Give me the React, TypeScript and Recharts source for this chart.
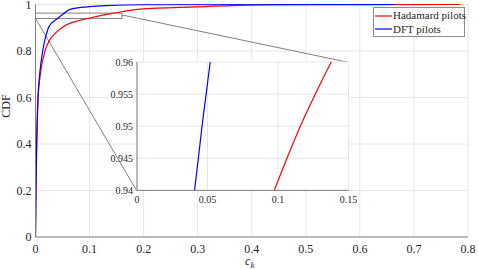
import { CartesianGrid, Line, LineChart, ReferenceArea, ReferenceLine, XAxis, YAxis } from 'recharts';

// CDF levels shared by both curves, and the c_k value where each curve reaches them
const cdfLevels = [0, 0.1, 0.2, 0.3, 0.4, 0.5, 0.6, 0.7, 0.8, 0.85, 0.875, 0.9, 0.92, 0.93, 0.94, 0.945, 0.95, 0.955, 0.96, 0.97, 0.98, 0.99, 0.995, 0.999, 1];
const hadamardX = [0, 0.0005, 0.001, 0.0017, 0.0025, 0.0035, 0.005, 0.009, 0.0176, 0.027, 0.036, 0.0485, 0.064, 0.079, 0.0973, 0.1063, 0.1158, 0.1264, 0.1377, 0.162, 0.194, 0.298, 0.36, 0.5, 0.786];
const dftX = [0, 0.0004, 0.0008, 0.0013, 0.002, 0.003, 0.0045, 0.0077, 0.0133, 0.0175, 0.0205, 0.0238, 0.03, 0.035, 0.0408, 0.0435, 0.0461, 0.049, 0.0519, 0.057, 0.065, 0.095, 0.13, 0.2, 0.665];

const mainXTicks = [0, 0.1, 0.2, 0.3, 0.4, 0.5, 0.6, 0.7, 0.8];
const mainYTicks = [0, 0.2, 0.4, 0.6, 0.8, 1];
const insetXTicks = [0, 0.05, 0.1, 0.15];
const insetYTicks = [0.94, 0.945, 0.95, 0.955, 0.96];

const zoomBox = { x1: 0, x2: 0.16, y1: 0.94, y2: 0.963 };

const hadamardData = cdfLevels.map((p, i) => ({ x: hadamardX[i], cdf: p }));
const dftData = cdfLevels.map((p, i) => ({ x: dftX[i], cdf: p }));

const FONT = '"Liberation Serif", "Times New Roman", serif';
const TEXT = '#262626';
const AXIS = '#808080';
const GRID = '#e6e6e6';

// main plot box in pixels
const W = 478;
const H = 269;
const plot = { left: 35.5, top: 4.5, right: 468, bottom: 237 };
// inset plot box in pixels
const inset = { left: 136.7, top: 62.3, right: 348.3, bottom: 190.7 };

const toMain = (px: number, py: number) => ({
  x: ((px - plot.left) / (plot.right - plot.left)) * 0.8,
  y: (plot.bottom - py) / (plot.bottom - plot.top),
});

const fmt = (v: number) => String(v);

function XLabel({ viewBox }: any) {
  const cx = viewBox.x + viewBox.width / 2 - 2;
  const y = viewBox.y + 28;
  return (
    <text x={cx} y={y} textAnchor="middle" fontSize={12} fill={TEXT}>
      <tspan fontStyle="italic">c</tspan>
      <tspan fontStyle="italic" fontSize={9} dy={3}>k</tspan>
    </text>
  );
}

function Legend() {
  const rows = [
    { name: 'Hadamard pilots', color: '#ff0000' },
    { name: 'DFT pilots', color: '#0000ff' },
  ];
  return (
    <div
      style={{
        position: 'absolute',
        left: 373,
        top: 7,
        width: 90,
        height: 27,
        border: '1px solid #8c8c8c',
        background: '#fff',
        fontFamily: FONT,
        fontSize: 11,
        color: TEXT,
        paddingTop: 1,
        whiteSpace: 'nowrap',
      }}
    >
      {rows.map((r) => (
        <div key={r.name} style={{ display: 'flex', alignItems: 'center', height: 13.5, lineHeight: '13.5px' }}>
          <svg width={19} height={4} style={{ flexShrink: 0 }}>
            <line x1={1} x2={18} y1={2} y2={2} stroke={r.color} strokeWidth={1.2} />
          </svg>
          <span>{r.name}</span>
        </div>
      ))}
    </div>
  );
}

export default function App() {
  const cornerTR = toMain(inset.right, inset.top);
  const cornerBL = toMain(inset.left, inset.bottom);
  const insetW = inset.right - inset.left + 40 + 10;
  const insetH = inset.bottom - inset.top + 5 + 20;

  return (
    <div style={{ position: 'absolute', left: 0, top: 0, width: W, height: H, background: '#fff', fontFamily: FONT }}>
      <style>{`.recharts-wrapper text, .recharts-wrapper tspan { font-family: "Liberation Serif", "Times New Roman", serif !important; }`}</style>
      <LineChart width={W} height={H} margin={{ top: plot.top, right: W - plot.right, left: 0, bottom: 2 }}>
        <CartesianGrid stroke={GRID} strokeWidth={1} />
        <XAxis
          type="number"
          dataKey="x"
          domain={[0, 0.8]}
          ticks={mainXTicks}
          tickFormatter={fmt}
          allowDataOverflow
          height={H - plot.bottom - 2}
          stroke={AXIS}
          tickLine={false}
          tickSize={5}
          tickMargin={2}
          tick={{ fill: TEXT, fontSize: 12, fontFamily: 'Liberation Serif' }}
          interval={0}
          label={<XLabel />}
        />
        <YAxis
          type="number"
          dataKey="cdf"
          domain={[0, 1]}
          ticks={mainYTicks}
          tickFormatter={fmt}
          width={plot.left}
          stroke={AXIS}
          tickLine={false}
          tickSize={2}
          tickMargin={2}
          tick={{ fill: TEXT, fontSize: 12, fontFamily: 'Liberation Serif' }}
          interval={0}
          label={{ value: 'CDF', angle: -90, position: 'insideLeft', offset: 6, fill: TEXT, fontSize: 12, dy: -3 }}
        />
        <ReferenceArea {...zoomBox} fill="none" stroke={AXIS} strokeWidth={1} ifOverflow="visible" />
        <ReferenceLine
          segment={[{ x: zoomBox.x2, y: 0.955 }, cornerTR]}
          stroke={AXIS}
          strokeWidth={1}
          ifOverflow="visible"
        />
        <ReferenceLine
          segment={[{ x: zoomBox.x1, y: zoomBox.y1 }, cornerBL]}
          stroke={AXIS}
          strokeWidth={1}
          ifOverflow="visible"
        />
        <Line data={hadamardData} dataKey="cdf" type="monotone" stroke="#ff0000" strokeWidth={1.2} dot={false} isAnimationActive={false} />
        <Line data={dftData} dataKey="cdf" type="monotone" stroke="#0000ff" strokeWidth={1.2} dot={false} isAnimationActive={false} />
      </LineChart>

      <div style={{ position: 'absolute', left: inset.left - 40, top: inset.top - 5 }}>
        <LineChart width={insetW} height={insetH} margin={{ top: 5, right: 10, left: 0, bottom: 0 }}>
          <CartesianGrid stroke={GRID} strokeWidth={1} fill="#fff" fillOpacity={1} />
          <XAxis
            type="number"
            dataKey="x"
            domain={[0, 0.15]}
            ticks={insetXTicks}
            tickFormatter={fmt}
            allowDataOverflow
            height={20}
            stroke={AXIS}
            tickLine={false}
            tickSize={4}
            tickMargin={2}
            tick={{ fill: TEXT, fontSize: 10, fontFamily: 'Liberation Serif' }}
            interval={0}
          />
          <YAxis
            type="number"
            dataKey="cdf"
            domain={[0.94, 0.96]}
            ticks={insetYTicks}
            tickFormatter={fmt}
            allowDataOverflow
            width={40}
            stroke={AXIS}
            tickLine={false}
            tickSize={2}
            tickMargin={2}
            tick={{ fill: TEXT, fontSize: 10, fontFamily: 'Liberation Serif' }}
            interval={0}
          />
          <Line data={hadamardData} dataKey="cdf" type="monotone" stroke="#ff0000" strokeWidth={1.2} dot={false} isAnimationActive={false} />
          <Line data={dftData} dataKey="cdf" type="monotone" stroke="#0000ff" strokeWidth={1.2} dot={false} isAnimationActive={false} />
        </LineChart>
      </div>

      <Legend />
    </div>
  );
}
